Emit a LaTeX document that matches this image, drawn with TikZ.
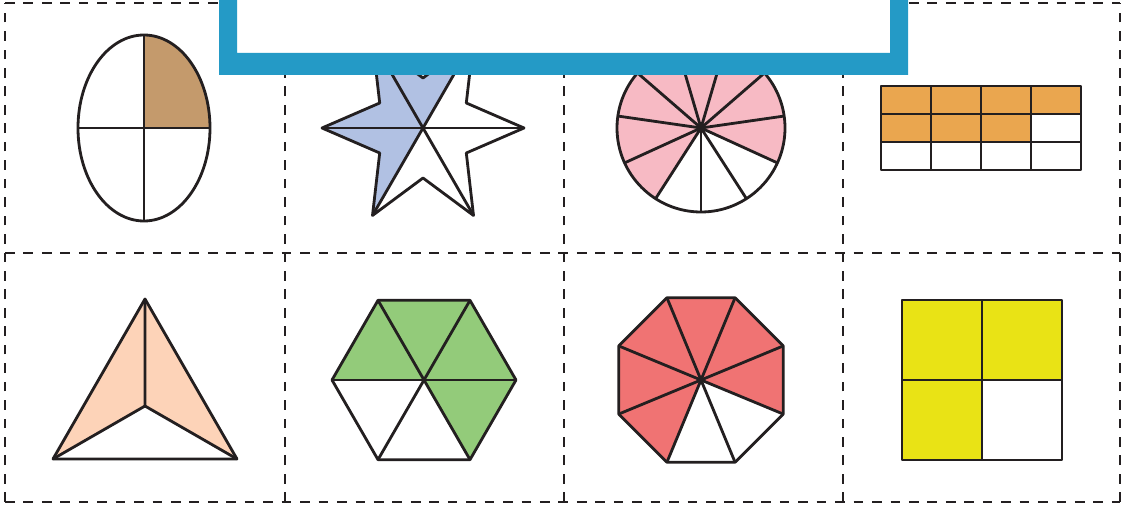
\documentclass[tikz,border=0pt]{standalone}
\usepackage{xcolor}
\usepackage{tikz}
\usetikzlibrary{calc}

\definecolor{frameblue}{HTML}{249AC6}
\definecolor{inkline}{HTML}{231F20}
\definecolor{eggtan}{HTML}{C49A6C}
\definecolor{starblue}{HTML}{B1C1E3}
\definecolor{pizzapink}{HTML}{F7BAC4}
\definecolor{barorange}{HTML}{EAA64F}
\definecolor{tripeach}{HTML}{FDD3B8}
\definecolor{hexgreen}{HTML}{93CB7A}
\definecolor{octred}{HTML}{F07373}
\definecolor{sqyellow}{HTML}{E9E315}

\begin{document}
\begin{tikzpicture}[
    x=0.02cm, y=0.02cm,
    cell/.style={line width=1.3pt, draw=inkline, dash pattern=on 5.5pt off 5pt},
    part/.style={line width=1.6pt, draw=inkline, line join=round},
  ]
    \useasboundingbox (0,0) rectangle (1122,504);
    \clip (0,0) rectangle (1122,504);

    % dashed cells
    \foreach \x in {5,285,564,843,1120}
      \draw[cell] (\x,2) -- (\x,501);
    \foreach \y in {2,251,501}
      \draw[cell] (5,\y) -- (1120,\y);

    % egg: one quarter
    \begin{scope}[shift={(144,376)}]
      \coordinate (egg) at (0,0);
      \fill[eggtan] (egg) -- (66,0) arc[start angle=0, end angle=90, x radius=66, y radius=93] -- cycle;
      \draw[part] (egg) ellipse[x radius=66, y radius=93];
      \draw[part] (-66,0) -- (66,0) (0,-93) -- (0,93);
    \end{scope}

    % star: three sixths
    \begin{scope}[shift={(423,376)}]
      \coordinate (star) at (0,0);
      \fill[starblue] (star) -- (60:101) -- (90:50) -- (120:101) -- (150:50)
        -- (180:101) -- (210:50) -- (240:101) -- cycle;
      \draw[part] (0:101) -- (30:50) -- (60:101) -- (90:50) -- (120:101) -- (150:50)
        -- (180:101) -- (210:50) -- (240:101) -- (270:50) -- (300:101) -- (330:50) -- cycle;
      \foreach \a in {0,60,120}
        \draw[part] (\a:101) -- (\a+180:101);
    \end{scope}

    % pie: eight elevenths
    \begin{scope}[shift={(701,376)}]
      \coordinate (pie) at (0,0);
      \fill[pizzapink] (pie) -- (-24.55:84) arc[start angle=-24.55, end angle=237.27, radius=84] -- cycle;
      \draw[part] (pie) circle[radius=84];
      \foreach \k in {0,...,10}
        \draw[part] (pie) -- ({-90+\k*360/11}:84);
    \end{scope}

    % bar: seven twelfths
    \begin{scope}[shift={(881,334)}]
      \coordinate (bar) at (0,0);
      \fill[barorange] (0,56) rectangle (200,84);
      \fill[barorange] (0,28) rectangle (150,56);
      \draw[part] (bar) grid[xstep=50, ystep=28] (200,84);
      \draw[part] (bar) rectangle (200,84);
    \end{scope}

    % triangle: two thirds
    \coordinate (apex) at (145,205);
    \coordinate (left) at (53,45);
    \coordinate (right) at (237,45);
    \coordinate (mid) at (145,98);
    \fill[tripeach] (left) -- (apex) -- (right) -- (mid) -- cycle;
    \draw[part] (left) -- (apex) -- (right) -- cycle;
    \draw[part] (apex) -- (mid) (left) -- (mid) -- (right);

    % hexagon: four sixths
    \begin{scope}[shift={(424,124)}]
      \coordinate (hex) at (0,0);
      \fill[hexgreen] (hex) -- (-60:92) -- (0:92) -- (60:92) -- (120:92) -- (180:92) -- cycle;
      \draw[part] (0:92) -- (60:92) -- (120:92) -- (180:92) -- (240:92) -- (300:92) -- cycle;
      \foreach \a in {0,60,120}
        \draw[part] (\a:92) -- (\a+180:92);
    \end{scope}

    % octagon: six eighths
    \begin{scope}[shift={(701,124)}]
      \coordinate (oct) at (0,0);
      \fill[octred] (oct) \foreach \a in {-22.5,22.5,...,247.5} { -- (\a:89) } -- cycle;
      \draw[part] (22.5:89) \foreach \a in {67.5,112.5,...,382.5} { -- (\a:89) } -- cycle;
      \foreach \a in {22.5,67.5,112.5,157.5}
        \draw[part] (\a:89) -- (\a+180:89);
    \end{scope}

    % square: three quarters
    \coordinate (sq) at (982,124);
    \fill[sqyellow] (902,124) rectangle (1062,204);
    \fill[sqyellow] (902,44) rectangle (982,124);
    \draw[part] (902,44) rectangle (1062,204);
    \draw[part] (902,124) -- (1062,124) (982,44) -- (982,204);

    % title frame
    \fill[white] (219,429) rectangle (908,520);
    \fill[frameblue, even odd rule] (219,429) rectangle (908,520) (237,451) rectangle (890,521);
\end{tikzpicture}
\end{document}
